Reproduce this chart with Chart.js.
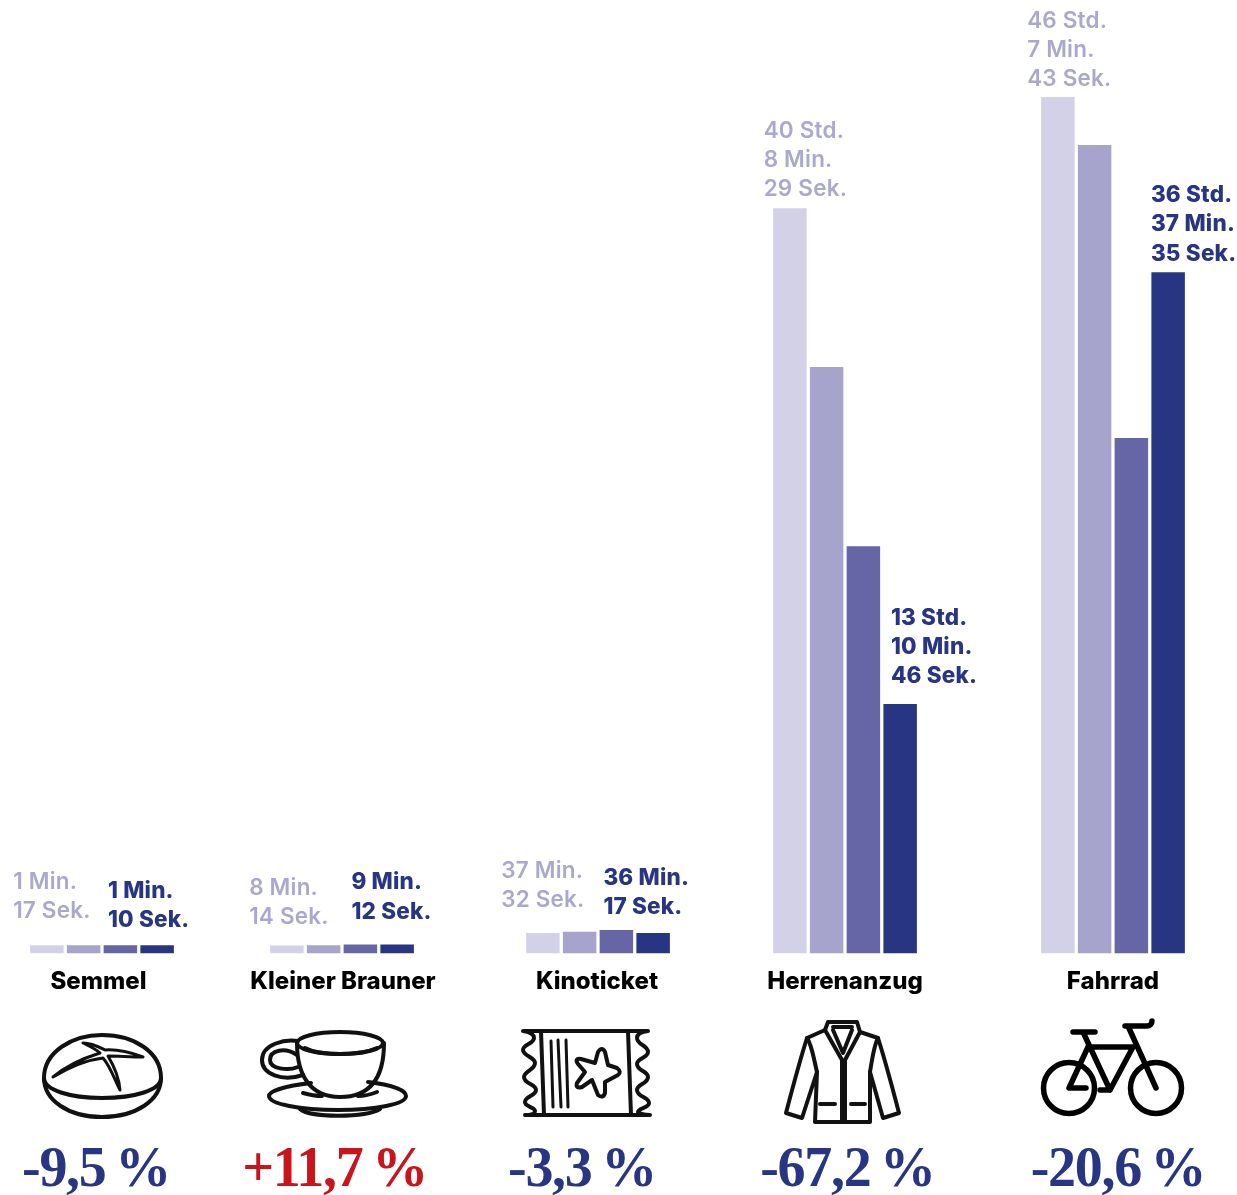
<!DOCTYPE html>
<html lang="de">
<head>
<meta charset="utf-8">
<title>Arbeitszeit</title>
<script src="https://cdn.jsdelivr.net/npm/chart.js@4/dist/chart.umd.js"></script>
<style>
html, body { margin: 0; padding: 0; background: #fff; }
#page { position: relative; width: 1237px; height: 1195px; overflow: hidden; }
#page canvas { position: absolute; top: 0; }
#icons { position: absolute; left: 0; top: 0; }
#icons * { fill: none; stroke: #111; stroke-width: 4; stroke-linecap: round; stroke-linejoin: round; }
#icons .bike * { stroke: #000; stroke-width: 5.5; }
.change {
	position: absolute; top: 1135px; width: 240px; margin-left: -120px; text-align: center;
	font: bold 56px "Liberation Serif", serif; letter-spacing: -1.3px; word-spacing: -3px; color: #283583;
}
.change.up { color: #c9141b; }
</style>
</head>
<body>
<div id="page">
<svg id="icons" width="1237" height="1195" viewBox="0 0 1237 1195">
	<!-- Semmel -->
	<path d="M44 1078C44 1052 72 1035 102 1035C134 1035 161 1052 161 1078C161 1090 135 1098 102 1098C70 1098 44 1090 44 1078Z"/>
	<path d="M44 1078C44 1100 68 1117 102 1117C136 1117 161 1100 161 1078"/>
	<path style="stroke-width:3" d="M53 1077C66 1066 84 1058 100 1053C96 1049 89 1046 83 1043C92 1043 99 1047 105 1050C118 1049 132 1053 143 1057C131 1057 118 1056 108 1056C114 1066 119 1078 120 1090C114 1078 110 1066 103 1058C86 1060 68 1068 53 1077Z"/>
	<!-- Kaffeetasse -->
	<ellipse cx="340" cy="1043" rx="43" ry="11"/>
	<path d="M305 1048C320 1056 360 1056 377 1048"/>
	<path d="M297 1043C297 1075 310 1097 340 1097C372 1097 384 1075 384 1043"/>
	<path d="M298 1041C285 1039 262 1044 262 1060C262 1074 282 1082 303 1075"/>
	<path d="M297 1055C285 1047 270 1050 270 1060C270 1069 288 1071 298 1067"/>
	<path d="M311 1083C285 1086 269 1091 269 1096C269 1104 300 1110 338 1110C376 1110 406 1104 406 1096C406 1090 392 1085 368 1082"/>
	<path d="M303 1093C310 1095 316 1096 322 1096M358 1096C365 1096 372 1094 377 1092"/>
	<path d="M300 1109C310 1118 365 1118 380 1109"/>
	<!-- Kinoticket -->
	<path d="M523 1031H648C640 1032 637 1034 637 1038C637 1045 648 1045 648 1052C648 1058 637 1058 637 1064C637 1071 648 1071 648 1077C648 1084 637 1084 637 1090C637 1097 649 1097 649 1103C649 1108 638 1108 638 1112C640 1114 645 1115 650 1115H525C530 1115 535 1114 535 1111C535 1107 525 1107 525 1102C525 1096 536 1096 536 1090C536 1084 524 1084 524 1077C524 1071 535 1070 535 1063C535 1057 523 1056 523 1050C523 1044 534 1044 534 1038C534 1034 530 1032 523 1031Z"/>
	<path d="M541 1031L544 1115M628 1031L631 1115"/>
	<path style="stroke-width:3" d="M551 1041L553 1107M558 1040L561 1107M566 1040L568 1107"/>
	<path d="M595 1063L598 1052Q602 1046 605 1052L608 1065L617 1068Q622 1072 618 1075L605 1082L605 1093Q603 1099 598 1095L592 1080L582 1087Q575 1089 577 1083L585 1072L578 1064Q574 1058 581 1059Z"/>
	<!-- Herrenanzug -->
	<path d="M828 1022H857L860 1032L878 1038C885 1060 893 1090 899 1113L883 1118L870 1072L870 1122H815L817 1072L802 1118L786 1113C792 1090 800 1060 807 1038L825 1030Z"/>
	<path d="M807 1038C812 1045 814 1060 817 1072M878 1038C874 1045 872 1060 870 1072"/>
	<path d="M825 1030L842 1060V1122M860 1032L845 1060V1122"/>
	<path d="M833 1030L843 1053L852 1030M833 1027H852"/>
	<path d="M820 1104H835M851 1104H865"/>
	<!-- Fahrrad -->
	<g class="bike">
		<circle cx="1069" cy="1088" r="25.5"/>
		<circle cx="1156" cy="1088" r="25.5"/>
		<path d="M1073 1032H1095M1083 1032L1110 1090H1100M1088 1047H1133L1110 1090M1088 1047L1069 1088H1086"/>
		<path d="M1125 1026H1147C1150 1026 1152 1024 1152 1021M1128 1026L1156 1088"/>
	</g>
</svg>
</div>
<script>
const categories = ['Semmel', 'Kleiner Brauner', 'Kinoticket', 'Herrenanzug', 'Fahrrad'];

// bar heights, in minutes on the shared scale
// (the very short bars are drawn taller than their label in the original)
const series1 = [27, 26, 66, 2410, 2769];
const series2 = [27, 27, 70, 1896, 2614];
const series3 = [27, 29, 76, 1317, 1667];
const series4 = [27, 29, 66, 807, 2203];

const firstLabels = [
	['1 Min.', '17 Sek.'],
	['8 Min.', '14 Sek.'],
	['37 Min.', '32 Sek.'],
	['40 Std.', '8 Min.', '29 Sek.'],
	['46 Std.', '7 Min.', '43 Sek.']
];
const lastLabels = [
	['1 Min.', '10 Sek.'],
	['9 Min.', '12 Sek.'],
	['36 Min.', '17 Sek.'],
	['13 Std.', '10 Min.', '46 Sek.'],
	['36 Std.', '37 Min.', '35 Sek.']
];
const changes = ['-9,5 %', '+11,7 %', '-3,3 %', '-67,2 %', '-20,6 %'];

// layout of the five small charts
const canvasWidth = 300, canvasHeight = 1000, baseline = 953.5, yMax = 3083;
const groupCentre = [101.5, 342, 597.5, 845, 1112.5];
const nameShift = [-3.5, 1, -1, 0, 0];
const changeCentre = [96, 334.5, 582, 847.5, 1118];
const firstLabelDx = [-17, -21, -25, -9.5, -14];
const firstLabelDy = [-27, -21, -26, -12, -11];
const lastLabelDx = [-32.5, -29, -33, 7.5, -0.5];
const lastLabelDy = [-18, -26, -19, -20.5, -11.5];

const seriesColors = ['#d3d1e8', '#a6a4cc', '#6665a5', '#283583'];
const labelFont = 'Inter, sans-serif';

const page = document.getElementById('page');

// the time labels above the first and the last bar of a group
function drawLabels(ctx, bar, lines, dx, dy, font, color)
{
	const x = bar.x - bar.width / 2 + dx;
	const y = bar.y + dy;
	ctx.font = font;
	ctx.fillStyle = color;
	ctx.textAlign = 'left';
	ctx.textBaseline = 'alphabetic';
	ctx.letterSpacing = '0.2px';
	lines.forEach(function(line, i)
	{
		ctx.fillText(line, x, y - (lines.length - 1 - i) * 29.3);
	});
}

categories.forEach(function(name, i)
{
	const canvas = document.createElement('canvas');
	canvas.style.left = (groupCentre[i] - canvasWidth / 2) + 'px';
	canvas.style.width = canvasWidth + 'px';
	canvas.style.height = canvasHeight + 'px';
	canvas.width = canvasWidth;
	canvas.height = canvasHeight;
	page.appendChild(canvas);

	const values = [series1[i], series2[i], series3[i], series4[i]];

	new Chart(canvas, {
		type: 'bar',
		data: {
			labels: [name],
			datasets: values.map(function(value, s)
			{
				return { data: [value], backgroundColor: seriesColors[s] };
			})
		},
		options: {
			responsive: false,
			animation: false,
			devicePixelRatio: 1,
			categoryPercentage: 147 / canvasWidth,
			barPercentage: 33.5 / 36.75,
			layout: { padding: 0 },
			plugins: { legend: { display: false }, tooltip: { enabled: false } },
			scales: {
				x: {
					grid: { display: false },
					border: { display: false },
					afterFit: function(scale) { scale.height = canvasHeight - baseline; },
					ticks: {
						padding: 6,
						maxRotation: 0,
						autoSkip: false,
						labelOffset: nameShift[i],
						color: '#000',
						font: { family: 'Inter', weight: '800', size: 24 }
					}
				},
				y: { display: false, min: 0, max: yMax }
			}
		},
		plugins: [{
			id: 'timeLabels',
			afterDatasetsDraw: function(chart)
			{
				const ctx = chart.ctx;
				ctx.save();
				drawLabels(ctx, chart.getDatasetMeta(0).data[0], firstLabels[i],
					firstLabelDx[i], firstLabelDy[i], '600 22.5px ' + labelFont, '#aaa8cf');
				drawLabels(ctx, chart.getDatasetMeta(3).data[0], lastLabels[i],
					lastLabelDx[i], lastLabelDy[i], '800 22.5px ' + labelFont, '#283583');
				ctx.restore();
			}
		}]
	});

	const change = document.createElement('div');
	change.className = changes[i].charAt(0) === '+' ? 'change up' : 'change';
	change.style.left = changeCentre[i] + 'px';
	change.textContent = changes[i];
	page.appendChild(change);
});
</script>
</body>
</html>
